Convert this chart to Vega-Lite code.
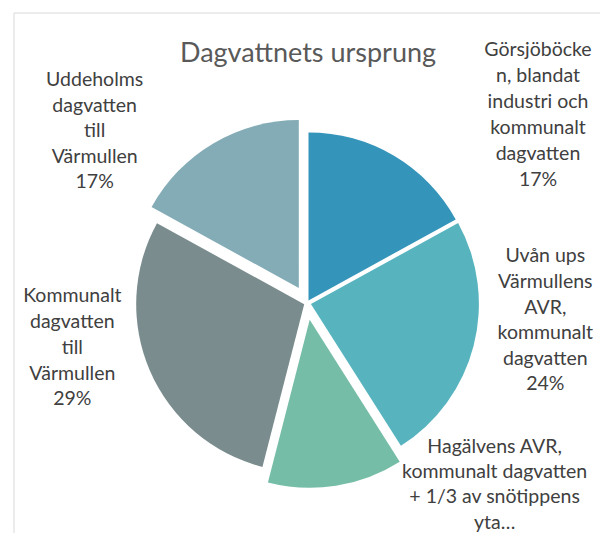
{
  "$schema": "https://vega.github.io/schema/vega-lite/v6.json",
  "width": 588,
  "height": 580,
  "autosize": {"type": "none"},
  "padding": {"left": 14, "top": 13, "right": -2, "bottom": -60},
  "background": "white",
  "config": {
    "view": {"stroke": null},
    "font": "Lato"
  },
  "title": {
    "text": "Dagvattnets ursprung",
    "fontSize": 27,
    "font": "Lato",
    "fontWeight": "normal",
    "color": "#595959",
    "anchor": "middle",
    "baseline": "alphabetic",
    "offset": -76
  },
  "data": {
    "values": [
      {"cat": "Görsjöböcken", "ord": 1, "value": 17, "label": "Görsjöböcke\nn, blandat\nindustri och\nkommunalt\ndagvatten\n17%"},
      {"cat": "Uvån", "ord": 2, "value": 24, "label": "Uvån ups\nVärmullens\nAVR,\nkommunalt\ndagvatten\n24%"},
      {"cat": "Hagälvens", "ord": 3, "value": 13, "label": "Hagälvens AVR,\nkommunalt dagvatten\n+ 1/3 av snötippens\nyta…"},
      {"cat": "Kommunalt", "ord": 4, "value": 29, "label": "Kommunalt\ndagvatten\ntill\nVärmullen\n29%"},
      {"cat": "Uddeholms", "ord": 5, "value": 17, "label": "Uddeholms\ndagvatten\ntill\nVärmullen\n17%"}
    ]
  },
  "transform": [
    {"stack": "value", "groupby": [], "sort": [{"field": "ord", "order": "ascending"}], "as": ["v0", "v1"]}
  ],
  "layer": [
    {
      "transform": [{"filter": "datum.ord === 1"}],
      "mark": {"type": "rect", "fill": "transparent", "stroke": "#D9D9D9", "strokeWidth": 1},
      "encoding": {}
    },
    {
      "transform": [{"filter": "datum.cat === 'Görsjöböcken'"}],
      "mark": {"type": "arc", "radius": 168, "xOffset": 0.5, "yOffset": -2.6},
      "encoding": {
        "theta": {"field": "v0", "type": "quantitative", "scale": {"domain": [0, 100]}},
        "theta2": {"field": "v1"},
        "color": {"field": "cat", "type": "nominal", "scale": {"domain": ["Görsjöböcken", "Uvån", "Hagälvens", "Kommunalt", "Uddeholms"], "range": ["#3494BA", "#57B4BF", "#75BDA7", "#7A8C8E", "#84ACB6"]}, "legend": null}
      }
    },
    {
      "transform": [{"filter": "datum.cat === 'Uvån'"}],
      "mark": {"type": "arc", "radius": 168, "xOffset": 2.9, "yOffset": 1},
      "encoding": {
        "theta": {"field": "v0", "type": "quantitative", "scale": {"domain": [0, 100]}},
        "theta2": {"field": "v1"},
        "color": {"field": "cat", "type": "nominal", "scale": {"domain": ["Görsjöböcken", "Uvån", "Hagälvens", "Kommunalt", "Uddeholms"], "range": ["#3494BA", "#57B4BF", "#75BDA7", "#7A8C8E", "#84ACB6"]}, "legend": null}
      }
    },
    {
      "transform": [{"filter": "datum.cat === 'Hagälvens'"}],
      "mark": {"type": "arc", "radius": 168, "xOffset": 1.7, "yOffset": 16.8},
      "encoding": {
        "theta": {"field": "v0", "type": "quantitative", "scale": {"domain": [0, 100]}},
        "theta2": {"field": "v1"},
        "color": {"field": "cat", "type": "nominal", "scale": {"domain": ["Görsjöböcken", "Uvån", "Hagälvens", "Kommunalt", "Uddeholms"], "range": ["#3494BA", "#57B4BF", "#75BDA7", "#7A8C8E", "#84ACB6"]}, "legend": null}
      }
    },
    {
      "transform": [{"filter": "datum.cat === 'Kommunalt'"}],
      "mark": {"type": "arc", "radius": 168, "xOffset": -3.8, "yOffset": 1.2},
      "encoding": {
        "theta": {"field": "v0", "type": "quantitative", "scale": {"domain": [0, 100]}},
        "theta2": {"field": "v1"},
        "color": {"field": "cat", "type": "nominal", "scale": {"domain": ["Görsjöböcken", "Uvån", "Hagälvens", "Kommunalt", "Uddeholms"], "range": ["#3494BA", "#57B4BF", "#75BDA7", "#7A8C8E", "#84ACB6"]}, "legend": null}
      }
    },
    {
      "transform": [{"filter": "datum.cat === 'Uddeholms'"}],
      "mark": {"type": "arc", "radius": 168, "xOffset": -9.2, "yOffset": -15},
      "encoding": {
        "theta": {"field": "v0", "type": "quantitative", "scale": {"domain": [0, 100]}},
        "theta2": {"field": "v1"},
        "color": {"field": "cat", "type": "nominal", "scale": {"domain": ["Görsjöböcken", "Uvån", "Hagälvens", "Kommunalt", "Uddeholms"], "range": ["#3494BA", "#57B4BF", "#75BDA7", "#7A8C8E", "#84ACB6"]}, "legend": null}
      }
    },
    {
      "transform": [{"filter": "datum.cat === 'Görsjöböcken'"}],
      "mark": {"type": "text", "radius": 240, "dx": 230, "dy": -13, "lineBreak": "\n", "lineHeight": 26, "fontSize": 19.5, "color": "#404040", "align": "center", "baseline": "middle"},
      "encoding": {"theta": {"field": "v0", "type": "quantitative"}, "text": {"field": "label"}}
    },
    {
      "transform": [{"filter": "datum.cat === 'Uvån'"}],
      "mark": {"type": "text", "radius": 240, "dx": 27, "dy": 69, "lineBreak": "\n", "lineHeight": 25.6, "fontSize": 19.5, "color": "#404040", "align": "center", "baseline": "middle"},
      "encoding": {"theta": {"field": "v0", "type": "quantitative"}, "text": {"field": "label"}}
    },
    {
      "transform": [{"filter": "datum.cat === 'Hagälvens'"}],
      "mark": {"type": "text", "radius": 240, "dx": 58, "dy": -59, "lineBreak": "\n", "lineHeight": 25.3, "fontSize": 19.5, "color": "#404040", "align": "center", "baseline": "middle"},
      "encoding": {"theta": {"field": "v0", "type": "quantitative"}, "text": {"field": "label"}}
    },
    {
      "transform": [{"filter": "datum.cat === 'Kommunalt'"}],
      "mark": {"type": "text", "radius": 240, "dx": -176, "dy": -239, "lineBreak": "\n", "lineHeight": 25.7, "fontSize": 19.5, "color": "#404040", "align": "center", "baseline": "middle"},
      "encoding": {"theta": {"field": "v0", "type": "quantitative"}, "text": {"field": "label"}}
    },
    {
      "transform": [{"filter": "datum.cat === 'Uddeholms'"}],
      "mark": {"type": "text", "radius": 240, "dx": -3, "dy": -107, "lineBreak": "\n", "lineHeight": 25.5, "fontSize": 19.5, "color": "#404040", "align": "center", "baseline": "middle"},
      "encoding": {"theta": {"field": "v0", "type": "quantitative"}, "text": {"field": "label"}}
    }
  ]
}
